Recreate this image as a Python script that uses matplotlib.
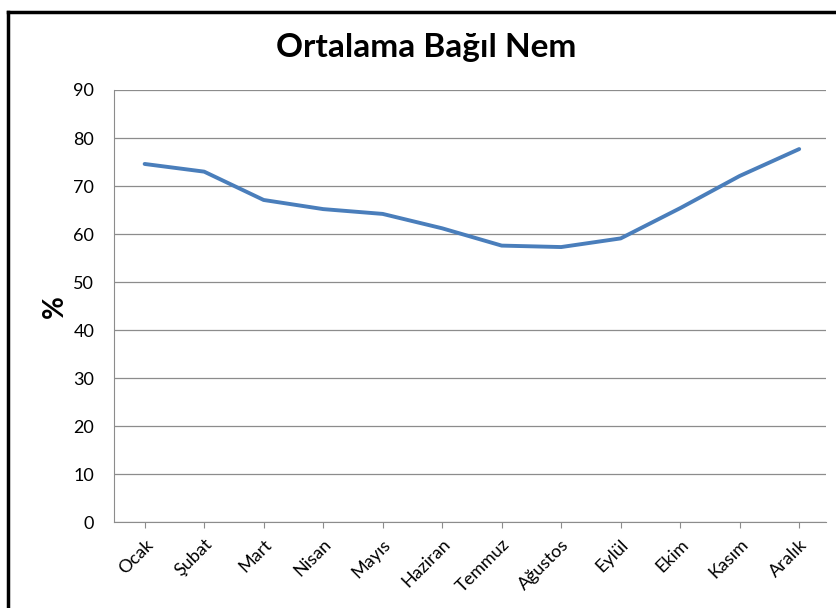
import matplotlib.pyplot as plt
from matplotlib.lines import Line2D

# Veriler
aylar = ["Ocak", "Şubat", "Mart", "Nisan", "Mayıs", "Haziran",
         "Temmuz", "Ağustos", "Eylül", "Ekim", "Kasım", "Aralık"]
nem = [74.6, 73.0, 67.1, 65.2, 64.2, 61.2, 57.6, 57.3, 59.1, 65.4, 72.1, 77.7]
yticks = [0, 10, 20, 30, 40, 50, 60, 70, 80, 90]

plt.rcParams['font.family'] = ['Lato', 'DejaVu Sans']

fig = plt.figure(figsize=(8.36, 6.08), dpi=100)
ax = fig.add_axes([0.136, 0.141, 0.852, 0.711])

x = list(range(len(aylar)))
ax.plot(x, nem, color="#4A7EBB", linewidth=2.8, solid_capstyle="round")

ax.set_xlim(-0.52, 11.45)
ax.set_ylim(0, 90)
ax.set_yticks(yticks)
ax.set_yticklabels([str(v) for v in yticks], fontsize=13)
ax.set_xticks(x)
ax.set_xticklabels(aylar, rotation=45, ha="right", rotation_mode="anchor", fontsize=13)

ax.grid(axis="y", color="#8c8c8c", linewidth=0.9)
ax.set_axisbelow(True)
for s in ["top", "right"]:
    ax.spines[s].set_visible(False)
ax.spines["left"].set_color("#8c8c8c")
ax.spines["bottom"].set_color("#8c8c8c")
ax.tick_params(axis="y", length=0, pad=14)
ax.tick_params(axis="x", length=4, color="#8c8c8c", direction="out", pad=6)

ax.set_ylabel("%", fontsize=20, fontweight="bold", labelpad=4)
fig.text(0.51, 0.922, "Ortalama Bağıl Nem", ha="center", va="center",
         fontsize=24, fontweight="bold")

# cerceve
fig.add_artist(Line2D([0.009, 0.009], [0, 0.981], color="black", linewidth=2.5, transform=fig.transFigure))
fig.add_artist(Line2D([0.009, 1.0], [0.981, 0.981], color="black", linewidth=2.5, transform=fig.transFigure))

fig.savefig("out.png", dpi=100)
